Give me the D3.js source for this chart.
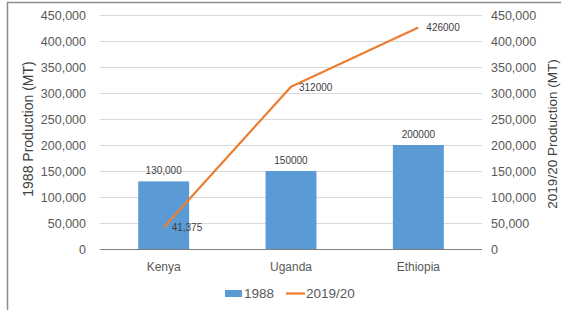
<!DOCTYPE html>
<html><head><meta charset="utf-8">
<script src="https://cdn.jsdelivr.net/npm/d3@7"></script>
<style>body{margin:0;background:#fff}svg{display:block;font-family:"Liberation Sans",Arial,sans-serif}</style>
</head><body><svg id="c" width="561" height="310"></svg>
<script>
const categories = ["Kenya","Uganda","Ethiopia"];
const values1988 = [130000,150000,200000];
const values2019 = [41375,312000,426000];
const labels1988 = ["130,000","150000","200000"];
const labels2019 = ["41,375","312000","426000"];
const yTicks = [0,50000,100000,150000,200000,250000,300000,350000,400000,450000];

const svg = d3.select("#c");
const L = 100, R = 482, T = 15, B = 249;
const x = d3.scaleBand().domain(categories).range([L,R]).paddingInner(0.6).paddingOuter(0.3);
const y = d3.scaleLinear().domain([0,450000]).range([B,T]);
const fmt = d3.format(",");

// border
svg.append("path").attr("d","M7.5,310 V2.5 H561").attr("fill","none").attr("stroke","#8c8c8c").attr("stroke-width",1.5);

// grid
svg.append("g").selectAll("line").data(yTicks.slice(1)).join("line")
  .attr("x1",L).attr("x2",R).attr("y1",d=>Math.round(y(d))+0.5).attr("y2",d=>Math.round(y(d))+0.5)
  .attr("stroke","#d9d9d9").attr("stroke-width",1);

// left axis
const la = svg.append("g").attr("transform",`translate(${L},0)`).call(d3.axisLeft(y).tickValues(yTicks).tickFormat(fmt).tickSize(0).tickPadding(14));
la.select(".domain").remove();
la.selectAll("text").attr("font-size",12.5).attr("fill","#595959").attr("font-family","Liberation Sans, Arial, sans-serif");
const ra = svg.append("g").attr("transform",`translate(${R},0)`).call(d3.axisRight(y).tickValues(yTicks).tickFormat(fmt).tickSize(0).tickPadding(9));
ra.select(".domain").remove();
ra.selectAll("text").attr("font-size",12.5).attr("fill","#595959").attr("font-family","Liberation Sans, Arial, sans-serif");

// bars
svg.append("g").selectAll("rect").data(values1988).join("rect")
  .attr("x",(d,i)=>x(categories[i])).attr("width",x.bandwidth())
  .attr("y",d=>y(d)).attr("height",d=>B-y(d)).attr("fill","#5b9bd5");

// baseline
svg.append("line").attr("x1",L).attr("x2",R).attr("y1",B+0.5).attr("y2",B+0.5).attr("stroke","#7f7f7f").attr("stroke-width",1);

// x axis
const xa = svg.append("g").attr("transform",`translate(0,${B})`).call(d3.axisBottom(x).tickSize(0).tickPadding(13));
xa.select(".domain").remove();
xa.selectAll("text").attr("font-size",12).attr("fill","#595959").attr("font-family","Liberation Sans, Arial, sans-serif");

// line
const cx = c => x(c)+x.bandwidth()/2;
svg.append("path").datum(values2019)
  .attr("d",d3.line().x((d,i)=>cx(categories[i])).y(d=>y(d)))
  .attr("fill","none").attr("stroke","#ed7d31").attr("stroke-width",2.25).attr("stroke-linejoin","round");

// bar labels
svg.append("g").selectAll("text").data(values1988).join("text")
  .attr("x",(d,i)=>cx(categories[i])).attr("y",d=>y(d)-7)
  .attr("text-anchor","middle").attr("font-size",10).attr("fill","#404040").text((d,i)=>labels1988[i]);

// line labels
svg.append("g").selectAll("text").data(values2019).join("text")
  .attr("x",(d,i)=>cx(categories[i])+8).attr("y",d=>y(d)+4)
  .attr("font-size",10).attr("fill","#404040").text((d,i)=>labels2019[i]);

// axis titles
svg.append("text").attr("transform","translate(33,129) rotate(-90)").attr("text-anchor","middle")
  .attr("font-size",14).attr("fill","#404040").text("1988 Production (MT)");
svg.append("text").attr("transform","translate(557,134) rotate(-90)").attr("text-anchor","middle")
  .attr("font-size",13.5).attr("fill","#404040").text("2019/20 Production (MT)");

// legend
const lg = svg.append("g");
lg.append("rect").attr("x",225).attr("y",290).attr("width",17).attr("height",7).attr("fill","#5b9bd5");
lg.append("text").attr("x",244).attr("y",298).attr("font-size",13.5).attr("fill","#595959").text("1988");
lg.append("line").attr("x1",286).attr("x2",305).attr("y1",293.5).attr("y2",293.5).attr("stroke","#ed7d31").attr("stroke-width",2.25);
lg.append("text").attr("x",306).attr("y",298).attr("font-size",13.5).attr("fill","#595959").text("2019/20");
</script></body></html>
